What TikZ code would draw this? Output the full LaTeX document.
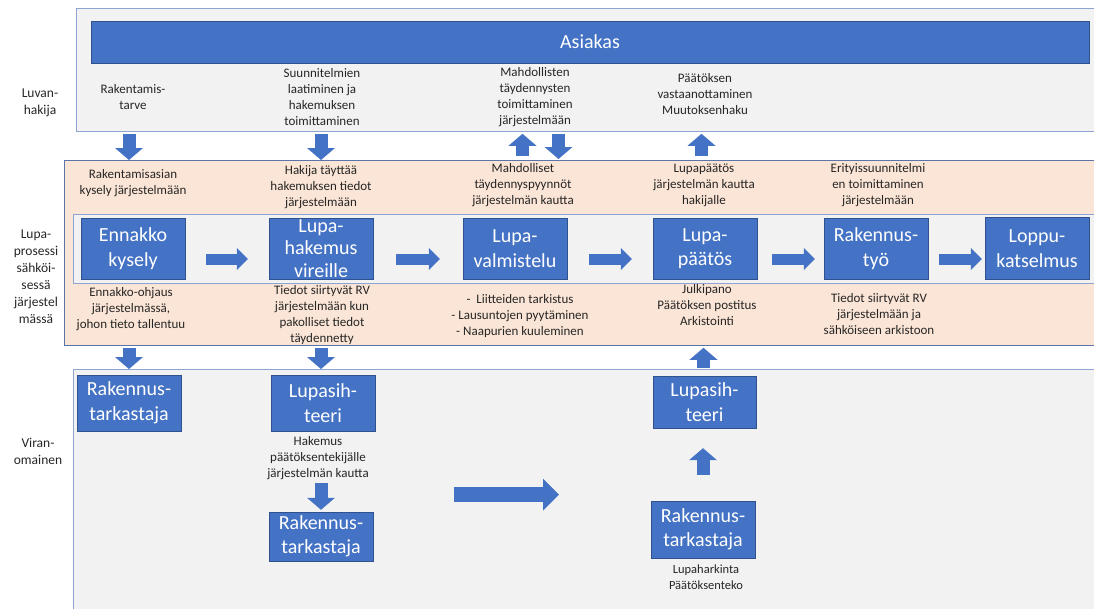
\documentclass[tikz,border=0pt]{standalone}
\usepackage{fontspec}
\setmainfont{Carlito}
\usepackage{tikz}
\usetikzlibrary{positioning,
                arrows.meta}                % arrow tips

\definecolor{boxblue}{HTML}{4472C4}
\definecolor{boxline}{HTML}{2F528F}
\definecolor{peach}{HTML}{FBE5D6}
\definecolor{bandgray}{HTML}{F2F2F2}
\definecolor{bandline}{HTML}{8EA5D2}
\definecolor{peachline}{HTML}{5B75A8}
\definecolor{txt}{HTML}{262626}

\begin{document}
\begin{tikzpicture}[x=1pt, y=-1pt,
    band/.style={draw=bandline, fill=bandgray, line width=0.8pt, inner sep=0pt, anchor=north west},
    phase/.style={draw=boxline, fill=boxblue, text=white, align=center, inner sep=0pt,
                  minimum width=104pt, minimum height=61pt, font=\fontsize{20}{24.5}\selectfont},
    note/.style={text=txt, align=center, inner sep=0pt, font=\fontsize{13}{16}\selectfont},
    side/.style={text=txt, align=center, inner sep=0pt, font=\fontsize{13.5}{17}\selectfont},
    flowarrow/.style={draw=boxblue, line width=11pt, -{Triangle[length=11pt, width=22pt, line width=0pt]}},
    passarrow/.style={draw=boxblue, line width=13pt, -{Triangle[length=12pt, width=28pt, line width=0pt]}},
    bigarrow/.style={draw=boxblue, line width=15pt, -{Triangle[length=16pt, width=32pt, line width=0pt]}}]

        \useasboundingbox (0,0) rectangle (1094,608);
        \clip (0,0) rectangle (1094,608);

        % bands
        \node[band, minimum width=1030pt, minimum height=123pt] (hakija) at (76,8) {};
        \node[band, draw=peachline, fill=peach, minimum width=1040pt, minimum height=185pt] (prosessi) at (64,160) {};
        \node[band, minimum width=1030pt, minimum height=69pt] (jono) at (73,214) {};
        \node[band, minimum width=1030pt, minimum height=250pt] (viranomainen) at (73,369) {};

        \node[side] (lhak) at (40,103) {Luvan-\\hakija};
        \node[side] (lpro) at (36,277) {Lupa-\\prosessi\\sähköi-\\sessä\\järjestel\\mässä};
        \node[side] (lvir) at (38,451) {Viran-\\omainen};

        \node[phase, minimum width=998pt, minimum height=42pt, font=\fontsize{20}{24}\selectfont] (asiakas) at (590,42) {Asiakas};

        \node[note] (n1) at (133,97) {Rakentamis-\\tarve};
        \node[note] (n2) at (322,97) {Suunnitelmien\\laatiminen ja\\hakemuksen\\toimittaminen};
        \node[note] (n3) at (535,97) {Mahdollisten\\täydennysten\\toimittaminen\\järjestelmään};
        \node[note] (n4) at (705,94) {Päätöksen\\vastaanottaminen\\Muutoksenhaku};

        % process row
        \node[phase] (ek) at (133,248.5) {Ennakko\\kysely};
        \node[phase] (lh) at (321,248.5) {};
        \node[text=white, align=center, inner sep=0pt, font=\fontsize{20}{22.5}\selectfont] (lhtext) at (lh) {Lupa-\\hakemus\\vireille};
        \node[phase] (lv) at (515,248.5) {Lupa-\\valmistelu};
        \node[phase] (lp) at (705,248.5) {Lupa-\\päätös};
        \node[phase] (rt) at (876,248.5) {Rakennus-\\työ};
        \node[phase, minimum height=62pt] (lk) at (1037,248.5) {Loppu-\\katselmus};

        \foreach \a/\b/\s/\e in {ek/lh/21/21, lh/lv/23/23, lv/lp/22/21, lp/rt/15/9, rt/lk/11/3}
        {
            \draw[flowarrow] ([xshift=\s pt, yshift=-10.5pt]\a.east) -- ([xshift=-\e pt, yshift=-10.5pt]\b.west);
        }

        \node[note] (a1) at (133,183) {Rakentamisasian\\kysely järjestelmään};
        \node[note] (a2) at (321,187) {Hakija täyttää\\hakemuksen tiedot\\järjestelmään};
        \node[note] (a3) at (523,185) {Mahdolliset\\täydennyspyynnöt\\järjestelmän kautta};
        \node[note] (a4) at (704,185) {Lupapäätös\\järjestelmän kautta\\hakijalle};
        \node[note] (a5) at (878,185) {Erityissuunnitelmi\\en toimittaminen\\järjestelmään};

        \node[note] (b1) at (131,309) {Ennakko-ohjaus\\järjestelmässä,\\johon tieto tallentuu};
        \node[note] (b2) at (322,315) {Tiedot siirtyvät RV\\järjestelmään kun\\pakolliset tiedot\\täydennetty};
        \node[note] (b3) at (520,316) {-\ \ Liitteiden tarkistus\\- Lausuntojen pyytäminen\\- Naapurien kuuleminen};
        \node[note] (b4) at (707,305) {Julkipano\\Päätöksen postitus\\Arkistointi};
        \node[note] (b5) at (879,314) {Tiedot siirtyvät RV\\järjestelmään ja\\sähköiseen arkistoon};

        % authority
        \node[phase, minimum height=56pt] (rt1) at (129,403) {Rakennus-\\tarkastaja};
        \node[phase, minimum height=56pt] (ls1) at (323,403) {Lupasih-\\teeri};
        \node[note] (c1) at (318,458) {Hakemus\\päätöksentekijälle\\järjestelmän kautta};
        \node[phase, minimum height=49pt] (rt2) at (321,536.5) {Rakennus-\\tarkastaja};
        \node[phase, minimum width=103pt, minimum height=52pt] (ls2) at (704.5,402) {Lupasih-\\teeri};
        \node[phase, minimum height=57pt] (rt3) at (703,529.5) {Rakennus-\\tarkastaja};
        \node[note, font=\fontsize{12.5}{16}\selectfont] (c2) at (706,577) {Lupaharkinta\\Päätöksenteko};

        % arrows between bands
        \draw[passarrow, shorten <=2pt] (rt1 |- hakija.south) -- (rt1 |- prosessi.north);
        \draw[passarrow, shorten <=2pt] (lh |- hakija.south) -- (lh |- prosessi.north);
        \draw[passarrow, shorten <=4pt, shorten >=2pt] ([xshift=7.5pt]lv.center |- prosessi.north) -- ([xshift=7.5pt]lv.center |- hakija.south);
        \draw[passarrow, shorten <=2pt, shorten >=1pt] ([xshift=43.5pt]lv.center |- hakija.south) -- ([xshift=43.5pt]lv.center |- prosessi.north);
        \draw[passarrow, shorten <=4pt, shorten >=2pt] ([xshift=-3.5pt]lp.center |- prosessi.north) -- ([xshift=-3.5pt]lp.center |- hakija.south);
        \draw[passarrow, shorten <=2pt] (rt1 |- prosessi.south) -- (rt1 |- viranomainen.north);
        \draw[passarrow, shorten <=2pt] (lh |- prosessi.south) -- (lh |- viranomainen.north);
        \draw[passarrow, shorten <=1pt, shorten >=2pt] ([xshift=-1pt]ls2.center |- viranomainen.north) -- ([xshift=-1pt]ls2.center |- prosessi.south);

        \draw[passarrow, shorten <=3pt, shorten >=2pt] (rt2 |- c1.south) -- (rt2.north);
        \draw[passarrow, shorten <=26pt, shorten >=20pt] (rt3.north) -- (rt3 |- ls2.south);

        \coordinate (sendL) at (454,494.5);
        \coordinate (sendR) at (559,494.5);
        \draw[bigarrow] (sendL) -- (sendR);

    \end{tikzpicture}
\end{document}
